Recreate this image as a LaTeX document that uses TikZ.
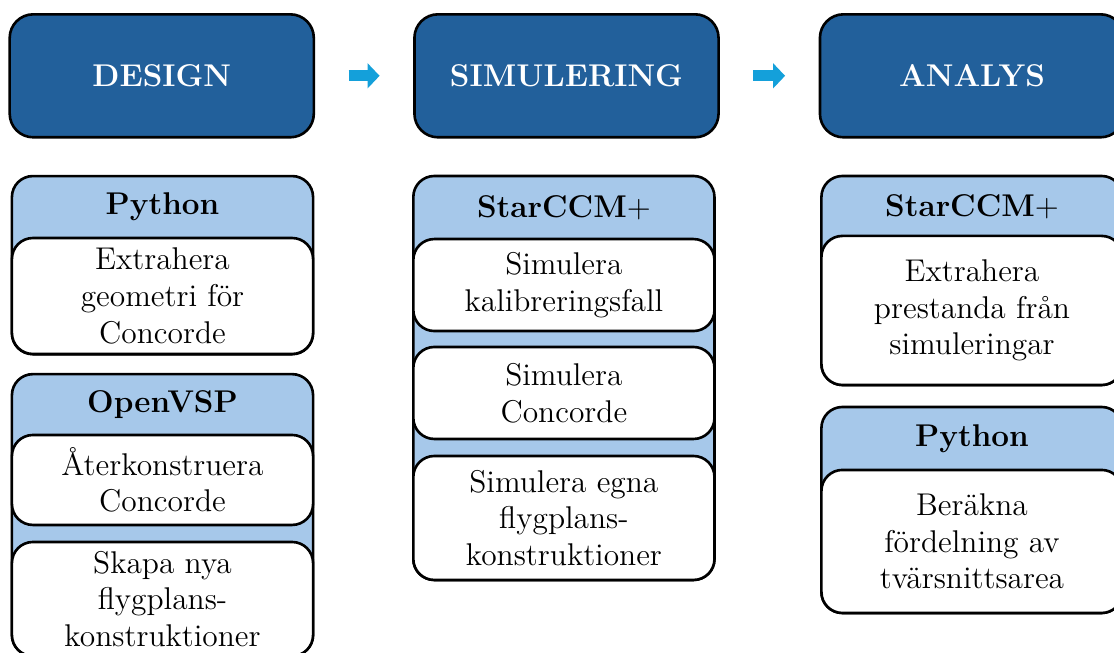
\documentclass[tikz,border=0pt]{standalone}
\usepackage{fontspec}
\usetikzlibrary{arrows.meta}
\definecolor{darkblue}{RGB}{34,96,155}
\definecolor{lightblue}{RGB}{166,200,234}
\definecolor{arrowblue}{RGB}{20,160,218}
\tikzset{
  stage/.style={draw=black,line width=1pt,fill=darkblue,rounded corners=9pt,minimum width=4.08cm,minimum height=1.65cm,text=white,font=\large\bfseries},
  tool/.style={draw=black,line width=1pt,fill=lightblue,rounded corners=8pt,minimum width=4.04cm},
  toolname/.style={font=\large\bfseries},
  task/.style={draw=black,line width=1pt,fill=white,rounded corners=8pt,minimum width=4.04cm,inner sep=1pt,align=center,font=\large},
  flow/.style={draw=arrowblue,line width=4.2pt,-{Triangle[length=4.6pt,width=9.4pt]}}
}
\begin{document}
\begin{tikzpicture}
\useasboundingbox (0,0) rectangle (14.945,8.747);
\clip (0,0) rectangle (14.945,8.747);
% stages
\node[stage] (design) at (2.17,7.73) {DESIGN};
\node[stage] (simu) at (7.60,7.73) {SIMULERING};
\node[stage] (analys) at (13.04,7.73) {ANALYS};
\draw[flow] ([xshift=.45cm]design.east) -- ([xshift=-.45cm]simu.west);
\draw[flow] ([xshift=.45cm]simu.east) -- ([xshift=-.45cm]analys.west);
% design
\node[tool,minimum height=2.39cm] (py1) at (2.18,5.19) {};
\node[toolname] (py1name) at (2.18,5.97) {Python};
\node[task,minimum height=1.556cm] (geom) at (2.18,4.776) {Extrahera\\geometri för\\Concorde};
\node[tool,minimum height=3.78cm] (vsp) at (2.18,1.838) {};
\node[toolname] (vspname) at (2.18,3.32) {OpenVSP};
\node[task,minimum height=1.207cm] (rekon) at (2.18,2.308) {Återkonstruera\\Concorde};
\node[task,minimum height=1.53cm] (nya) at (2.18,0.711) {Skapa nya\\flygplans-\\konstruktioner};
% simulering
\node[tool,minimum height=5.42cm] (ccm1) at (7.565,3.676) {};
\node[toolname] (ccm1name) at (7.565,5.963) {StarCCM$+$};
\node[task,minimum height=1.234cm] (kalib) at (7.565,4.923) {Simulera\\kalibreringsfall};
\node[task,minimum height=1.234cm] (simconc) at (7.565,3.475) {Simulera\\Concorde};
\node[task,minimum height=1.663cm] (egna) at (7.565,1.798) {Simulera egna\\flygplans-\\konstruktioner};
% analys
\node[tool,minimum height=2.804cm] (ccm2) at (13.04,4.984) {};
\node[toolname] (ccm2name) at (13.04,5.98) {StarCCM$+$};
\node[task,minimum height=2cm] (prest) at (13.04,4.582) {Extrahera\\prestanda från\\simuleringar};
\node[tool,minimum height=2.764cm] (py2) at (13.04,1.905) {};
\node[toolname] (py2name) at (13.04,2.865) {Python};
\node[task,minimum height=1.919cm] (area) at (13.04,1.483) {Beräkna\\fördelning av\\tvärsnittsarea};
\end{tikzpicture}
\end{document}
